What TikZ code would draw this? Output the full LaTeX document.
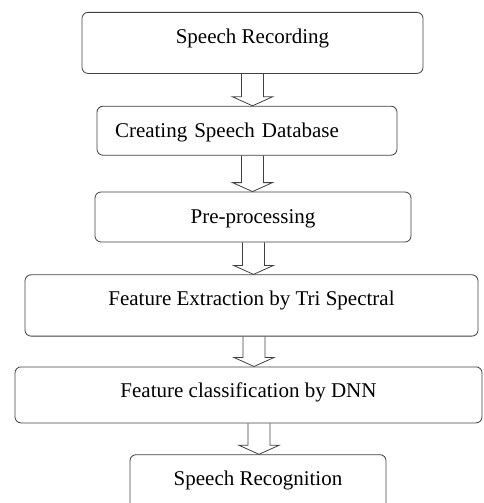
\documentclass[tikz,border=0pt]{standalone}
\usepackage{fontspec}
\setmainfont{Liberation Serif}
\usetikzlibrary{positioning, calc}

\begin{document}
\begin{tikzpicture}[font=\fontsize{21}{25}\selectfont, x=1pt, y=1pt,
      box/.style={draw=black!75, line width=0.8pt, rounded corners=6pt, inner ysep=0pt, inner xsep=0pt, text height=31pt},
      hollow/.style={draw=black!75, line width=0.8pt, to path={let \p1=(\tikztostart), \p2=(\tikztotarget) in
        ({\x1-11pt},\y1) -- ({\x1-11pt},{\y2+9pt}) -- ({\x1-20pt},{\y2+9pt}) -- (\x1,\y2)
        -- ({\x1+20pt},{\y2+9pt}) -- ({\x1+11pt},{\y2+9pt}) -- ({\x1+11pt},\y1)}}]
    \useasboundingbox (0,0) rectangle (483,-503);
    \clip (0,0) rectangle (483,-503);
    \node[box, minimum width=341pt, text depth=30pt, anchor=north] (rec) at (252.5,-12) {Speech Recording};
    \node[box, text width=264pt, inner xsep=18pt, align=left, text depth=18pt, below=32pt of rec, xshift=-5.5pt] (db) {Creating Speech Database};
    \node[box, minimum width=316pt, text depth=19pt, below=36pt of db, xshift=6pt] (pre) {Pre-processing};
    \node[box, minimum width=453pt, text depth=30.3pt, below=32pt of pre, xshift=-1.5pt] (fe) {Feature Extraction by Tri Spectral};
    \node[box, minimum width=467pt, text depth=25pt, below=30pt of fe, xshift=-3pt] (fc) {Feature classification by DNN};
    \node[box, minimum width=256pt, text depth=30pt, below=31pt of fc, xshift=9.5pt] (sr) {Speech Recognition};
    \draw[hollow] (rec.south) to (db.north);
    \draw[hollow] ([xshift=5.5pt]db.south) to (pre.north);
    \draw[hollow] ([xshift=0.5pt]pre.south) to (fe.north);
    \draw[hollow] ([xshift=2.5pt]fe.south) to (fc.north);
    \draw[hollow] ([xshift=10.5pt]fc.south) to (sr.north);
  \end{tikzpicture}
\end{document}
